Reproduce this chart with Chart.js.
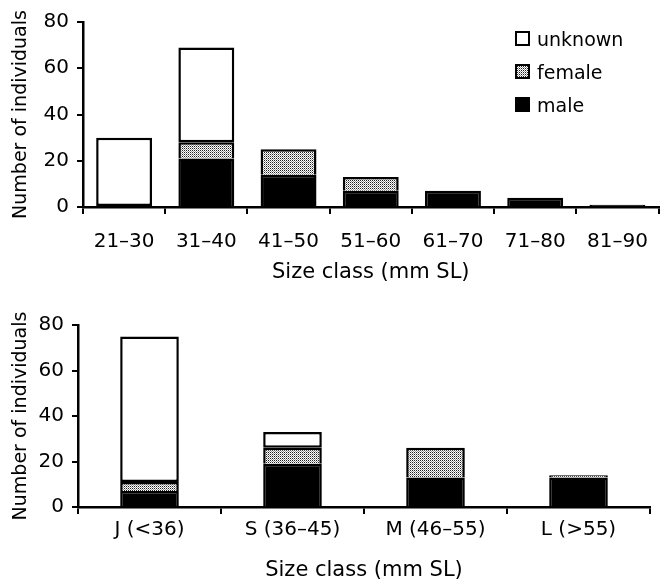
<!DOCTYPE html>
<html>
<head>
<meta charset="utf-8">
<script src="https://cdn.jsdelivr.net/npm/chart.js@4.4.0/dist/chart.umd.min.js"></script>
<style>
html, body { margin: 0; padding: 0; background: #fff; width: 660px; height: 587px; overflow: hidden; }
#sizeChart { position: absolute; left: 0; top: 0; }
#stageChart { position: absolute; left: 0; top: 292px; }
.legend { position: absolute; left: 515px; top: 22px; font: 19px "DejaVu Sans"; color: #000; }
.legend .row { display: flex; align-items: center; height: 33px; }
.legend .box { width: 15px; height: 15px; box-sizing: border-box; border: 2px solid #000; margin-right: 7px; background: #fff; }
</style>
</head>
<body>
<canvas id="sizeChart" width="664" height="292"></canvas>
<canvas id="stageChart" width="660" height="295"></canvas>
<div class="legend">
  <div class="row"><span class="box"></span>unknown</div>
  <div class="row"><span class="box" id="femaleBox"></span>female</div>
  <div class="row"><span class="box" style="background:#000"></span>male</div>
</div>
<script>
// size classes (top panel); null = no individuals in that group
const sizeClasses = ["21–30", "31–40", "41–50", "51–60", "61–70", "71–80", "81–90"];
const sizeMale    = [null, 21, 14, 7, 7, 4, 1];
const sizeFemale  = [null, 7, 11, 6, null, null, null];
const sizeUnknown = [30, 41, null, null, null, null, null];

// life stages (bottom panel)
const stageClasses = ["J (<36)", "S (36–45)", "M (46–55)", "L (>55)"];
const stageMale    = [7, 19, 13, 13];
const stageFemale  = [4, 7, 13, 1];
const stageUnknown = [64, 7, null, null];

const yTicks = [0, 20, 40, 60, 80];

const FONT = "DejaVu Sans";

// dotted fill used for females
function makeStipple() {
    const c = document.createElement("canvas");
    c.width = 2;
    c.height = 2;
    const g = c.getContext("2d");
    g.fillStyle = "#fff";
    g.fillRect(0, 0, 2, 2);
    g.fillStyle = "#222";
    g.fillRect(0, 0, 1, 1);
    g.fillStyle = "#999";
    g.fillRect(1, 1, 1, 1);
    return c;
}
const stippleCanvas = makeStipple();
document.getElementById("femaleBox").style.background = "url(" + stippleCanvas.toDataURL() + ")";

function buildChart(canvas, labels, male, female, unknown, cfg) {
    const stipple = canvas.getContext("2d").createPattern(stippleCanvas, "repeat");
    return new Chart(canvas, {
        type: "bar",
        data: {
            labels: labels,
            datasets: [
                {
                    label: "male",
                    data: male,
                    backgroundColor: "#000",
                    borderColor: "#000",
                    borderWidth: 2.5,
                },
                {
                    label: "female",
                    data: female,
                    backgroundColor: stipple,
                    borderColor: "#000",
                    borderWidth: { top: 2.5, left: 2.5, right: 2.5, bottom: 0 },
                    borderSkipped: false,
                },
                {
                    label: "unknown",
                    data: unknown,
                    backgroundColor: "#fff",
                    borderColor: "#000",
                    borderWidth: 2.5,
                    borderSkipped: false,
                },
            ],
        },
        options: {
            responsive: false,
            animation: false,
            devicePixelRatio: 1,
            layout: { padding: { top: cfg.padTop, right: cfg.padRight, left: 0, bottom: 0 } },
            datasets: {
                bar: { barPercentage: cfg.barPct, categoryPercentage: 1 },
            },
            plugins: {
                legend: { display: false },
                tooltip: { enabled: false },
            },
            scales: {
                x: {
                    stacked: true,
                    afterFit: (scale) => { scale.height = cfg.xHeight; },
                    grid: {
                        offset: true,
                        drawOnChartArea: false,
                        drawTicks: true,
                        tickLength: 7,
                        color: "#000",
                        lineWidth: 2,
                    },
                    border: { display: true, color: "#000", width: 2.5 },
                    ticks: {
                        color: "#000",
                        font: { family: FONT, size: 20 },
                        padding: cfg.xTickPad,
                        maxRotation: 0,
                        autoSkip: false,
                    },
                    title: {
                        display: true,
                        text: "Size class (mm SL)",
                        color: "#000",
                        font: { family: FONT, size: 21 },
                        padding: { top: 0, bottom: cfg.xTitlePad },
                    },
                },
                y: {
                    stacked: true,
                    min: 0,
                    max: 80,
                    afterFit: (scale) => { scale.width = cfg.yWidth; },
                    afterBuildTicks: (scale) => { scale.ticks = yTicks.map(v => ({ value: v })); },
                    grid: {
                        drawOnChartArea: false,
                        drawTicks: true,
                        tickLength: 6,
                        color: "#000",
                        lineWidth: 2,
                    },
                    border: { display: true, color: "#000", width: 2.5 },
                    ticks: {
                        color: "#000",
                        font: { family: FONT, size: 20 },
                        padding: 8,
                    },
                    title: {
                        display: true,
                        text: "Number of individuals",
                        color: "#000",
                        font: { family: FONT, size: 19 },
                        padding: { top: 10, bottom: 0 },
                    },
                },
            },
        },
    });
}

buildChart(document.getElementById("sizeChart"), sizeClasses, sizeMale, sizeFemale, sizeUnknown, {
    padTop: 22, padRight: 2, barPct: 0.68, yWidth: 83, xHeight: 85, xTickPad: 16, xTitlePad: 7,
});

buildChart(document.getElementById("stageChart"), stageClasses, stageMale, stageFemale, stageUnknown, {
    padTop: 33, padRight: 10, barPct: 0.41, yWidth: 78, xHeight: 80, xTickPad: 4, xTitlePad: 4,
});
</script>
</body>
</html>
